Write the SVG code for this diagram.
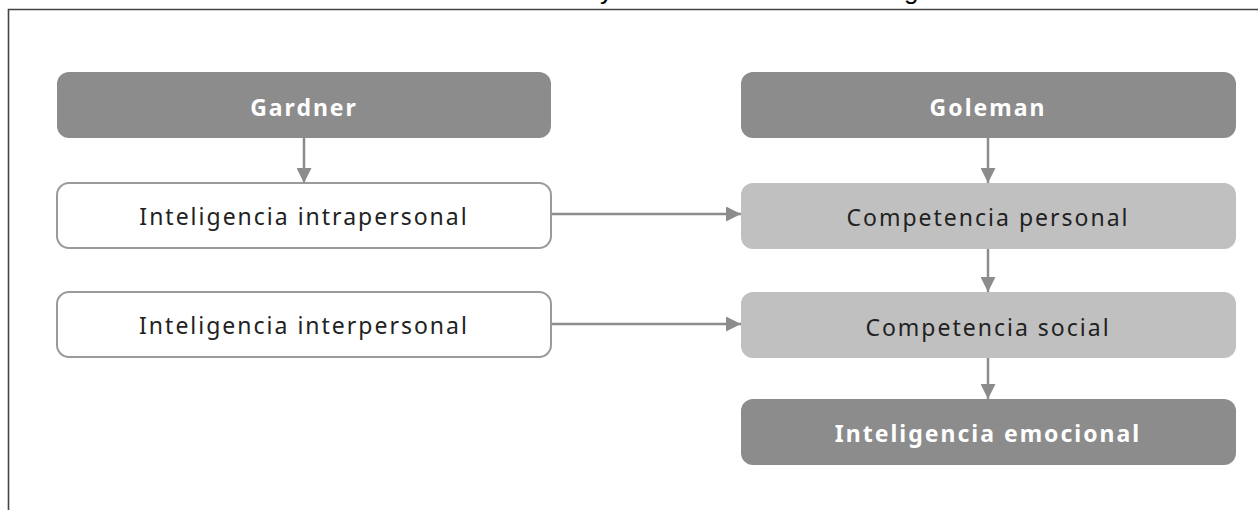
<svg xmlns="http://www.w3.org/2000/svg" width="1258" height="510" viewBox="0 0 1258 510">
<style>
.dark{fill:#8c8c8c}
.light{fill:#c0c0c0}
.white{fill:#ffffff;stroke:#9a9a9a;stroke-width:2}
.t{font-family:"Noto Sans","DejaVu Sans",sans-serif;font-size:23px;letter-spacing:2px;text-anchor:middle;dominant-baseline:central}
.tw{fill:#ffffff;font-weight:bold}
.tb{fill:#222222}
.conn{stroke:#8c8c8c;stroke-width:2.5;fill:none;marker-end:url(#ah)}
.frag{font-family:"Liberation Sans",sans-serif;font-size:26px;fill:#000}
</style>
<defs>
<marker id="ah" viewBox="0 0 10 10" refX="10" refY="5" markerWidth="8" markerHeight="6" markerUnits="strokeWidth" orient="auto">
<path d="M0,0 L10,5 L0,10 Z" fill="#8c8c8c"/>
</marker>
</defs>
<rect width="1258" height="510" fill="#ffffff"/>
<text class="frag" x="600" y="-1">y</text>
<text class="frag" x="904" y="-1">g</text>
<path d="M8.5,510 V9.5 H1258" fill="none" stroke="#444" stroke-width="1.6"/>
<g id="connectors">
<line class="conn" x1="304" y1="138" x2="304" y2="183"/>
<line class="conn" x1="988" y1="138" x2="988" y2="183"/>
<line class="conn" x1="551" y1="214" x2="741" y2="214"/>
<line class="conn" x1="551" y1="324" x2="741" y2="324"/>
<line class="conn" x1="988" y1="249" x2="988" y2="292"/>
<line class="conn" x1="988" y1="358" x2="988" y2="399"/>
</g>
<g id="gardner">
<rect class="dark" x="57" y="72" width="494" height="66" rx="12"/>
<text class="t tw" x="304" y="107">Gardner</text>
</g>
<g id="intrapersonal">
<rect class="white" x="57" y="183" width="494" height="65" rx="12"/>
<text class="t tb" x="304" y="216">Inteligencia intrapersonal</text>
</g>
<g id="interpersonal">
<rect class="white" x="57" y="292" width="494" height="65" rx="12"/>
<text class="t tb" x="304" y="325">Inteligencia interpersonal</text>
</g>
<g id="goleman">
<rect class="dark" x="741" y="72" width="495" height="66" rx="12"/>
<text class="t tw" x="988" y="107">Goleman</text>
</g>
<g id="competencia-personal">
<rect class="light" x="741" y="183" width="495" height="66" rx="12"/>
<text class="t tb" x="988" y="217">Competencia personal</text>
</g>
<g id="competencia-social">
<rect class="light" x="741" y="292" width="495" height="66" rx="12"/>
<text class="t tb" x="988" y="327">Competencia social</text>
</g>
<g id="inteligencia-emocional">
<rect class="dark" x="741" y="399" width="495" height="66" rx="12"/>
<text class="t tw" x="988" y="433">Inteligencia emocional</text>
</g>
</svg>
